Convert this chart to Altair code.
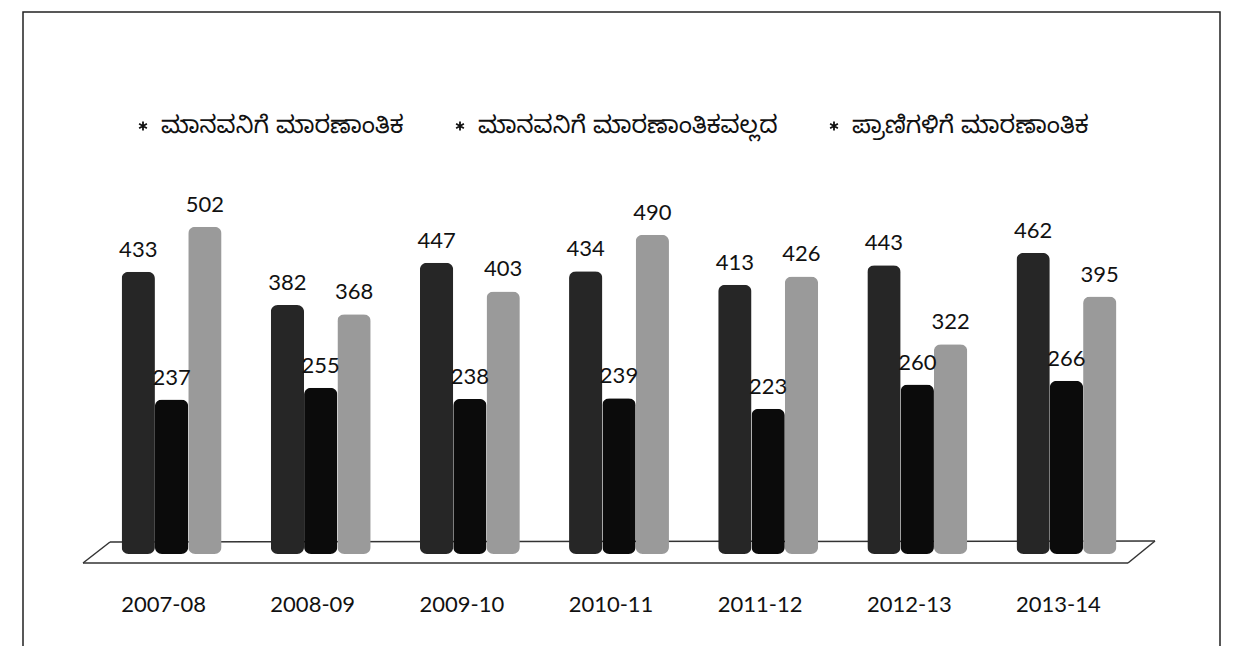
import altair as alt
import pandas as pd

years = ["2007-08", "2008-09", "2009-10", "2010-11", "2011-12", "2012-13", "2013-14"]
series_names = ["ಮಾನವನಿಗೆ ಮಾರಣಾಂತಿಕ", "ಮಾನವನಿಗೆ ಮಾರಣಾಂತಿಕವಲ್ಲದ", "ಪ್ರಾಣಿಗಳಿಗೆ ಮಾರಣಾಂತಿಕ"]
fatal_human = [433, 382, 447, 434, 413, 443, 462]
nonfatal_human = [237, 255, 238, 239, 223, 260, 266]
fatal_animal = [502, 368, 403, 490, 426, 322, 395]
colors = ["#262626", "#0b0b0b", "#9a9a9a"]

rows = []
# middle series first so that it is drawn behind the others
for name, vals in [(series_names[1], nonfatal_human),
                   (series_names[0], fatal_human),
                   (series_names[2], fatal_animal)]:
    for y, v in zip(years, vals):
        rows.append({"year": y, "series": name, "value": v})
df = pd.DataFrame(rows)

W, H = 1044, 391

x_enc = alt.X("year:N", sort=years, title=None,
              scale=alt.Scale(paddingInner=0.33, paddingOuter=0.165),
              axis=alt.Axis(domain=False, ticks=False, grid=False, labelAngle=0, labelPadding=40,
                            labelFontSize=22, labelFont="Lato", labelColor="#111",
                            labelOffset=-8))
xoff = alt.XOffset("series:N", sort=series_names, scale=alt.Scale(paddingInner=0, paddingOuter=0))
y_enc = alt.Y("value:Q", scale=alt.Scale(domain=[0, 600]), axis=None)

asterisk = "M0,-1L0,1M-0.87,-0.5L0.87,0.5M-0.87,0.5L0.87,-0.5"

bars = alt.Chart(df).mark_bar(cornerRadius=7, strokeWidth=0).encode(
    x=x_enc, xOffset=xoff, y=y_enc,
    color=alt.Color("series:N", sort=series_names,
                    scale=alt.Scale(domain=series_names, range=colors),
                    legend=alt.Legend(title=None, orient="none", direction="horizontal",
                                      legendX=34, legendY=-49,
                                      symbolType=asterisk, symbolSize=80,
                                      symbolStrokeWidth=1.8, symbolStrokeColor="#111",
                                      symbolFillColor="#111",
                                      labelFontSize=24, labelColor="#111", labelLimit=0,
                                      labelOffset=6,
                                      labelFont="Noto Sans Kannada, Noto Sans, sans-serif",
                                      columnPadding=44, symbolOffset=0)),
)

labels = alt.Chart(df).mark_text(dy=-22, fontSize=22, font="Lato", color="#111").encode(
    x=x_enc, xOffset=xoff, y=y_enc, text="value:Q")

one = alt.Data(values=[{"a": 1}])
floor_col = "#333"
floor = [
    alt.Chart(one).mark_rule(color=floor_col, strokeWidth=1.5).encode(
        x=alt.value(13), x2=alt.value(1058), y=alt.value(379), y2=alt.value(378)),
    alt.Chart(one).mark_rule(color=floor_col, strokeWidth=1.5).encode(
        x=alt.value(1058), x2=alt.value(1031), y=alt.value(378), y2=alt.value(400)),
    alt.Chart(one).mark_rule(color=floor_col, strokeWidth=1.5).encode(
        x=alt.value(-14), x2=alt.value(1031), y=alt.value(400), y2=alt.value(400)),
    alt.Chart(one).mark_rule(color=floor_col, strokeWidth=1.5).encode(
        x=alt.value(-14), x2=alt.value(13), y=alt.value(400), y2=alt.value(379)),
]

frame = alt.Chart(one).mark_rect(fill=None, stroke="#222", strokeWidth=1.5).encode(
    x=alt.value(-74), x2=alt.value(1123), y=alt.value(-151), y2=alt.value(486))

chart = alt.layer(frame, *floor, bars, labels).properties(
    width=W, height=H,
    background="white",
    autosize=alt.AutoSizeParams(type="none"),
    padding={"left": 89, "top": 155, "right": 100, "bottom": 92},
).configure_view(stroke=None, strokeWidth=0)

chart.save("out.html", embed_options={"renderer": "svg", "actions": False})
